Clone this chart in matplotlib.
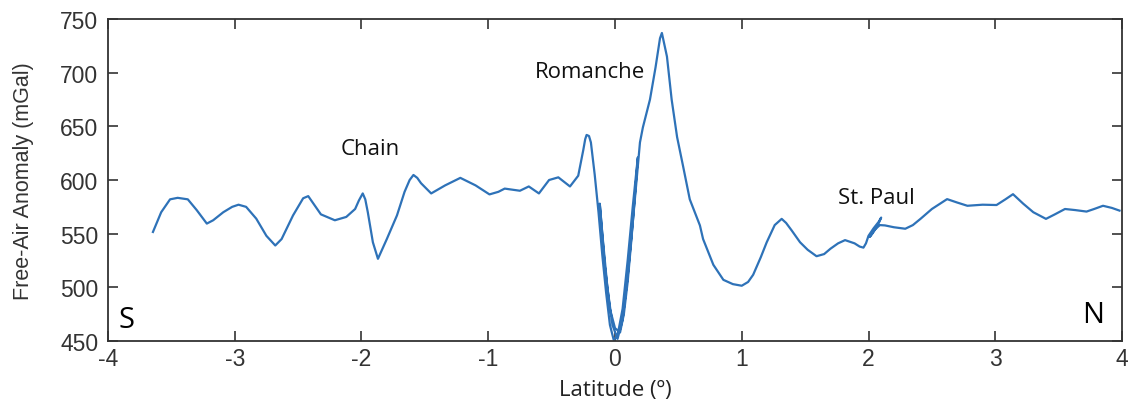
import numpy as np
import matplotlib
matplotlib.use("Agg")
import matplotlib.pyplot as plt

# ship track gravity profile across the equatorial fracture zones
lat = [-3.645, -3.58, -3.51, -3.45, -3.37, -3.30, -3.22, -3.17, -3.09, -3.02, -2.97,
       -2.91, -2.83, -2.75, -2.68, -2.63, -2.54, -2.46, -2.42, -2.37, -2.32,
       -2.21, -2.12, -2.05, -2.02, -1.99, -1.97, -1.95, -1.91, -1.87, -1.80, -1.72, -1.66,
       -1.62, -1.59, -1.56, -1.53, -1.45, -1.34, -1.22, -1.10, -0.99, -0.92, -0.87, -0.75,
       -0.68, -0.60, -0.52, -0.447, -0.355, -0.29, -0.25, -0.235, -0.224, -0.205, -0.19, -0.16,
       -0.13, -0.10, -0.07, -0.04, -0.01, 0.02, 0.06, 0.10, 0.14, 0.18,
       0.16, 0.13, 0.10, 0.07, 0.04, 0.0, -0.04, -0.08, -0.12, -0.10,
       -0.06, -0.02, 0.02, 0.06, 0.10, 0.14, 0.17, 0.197, 0.22, 0.276,
       0.32, 0.355, 0.37, 0.41, 0.447, 0.49, 0.537, 0.59, 0.67, 0.695, 0.776,
       0.855, 0.93, 1.0, 1.05, 1.09, 1.15, 1.197, 1.26, 1.315, 1.35,
       1.394, 1.46, 1.52, 1.59, 1.65, 1.70, 1.76, 1.815, 1.89, 1.93,
       1.96, 1.98, 2.0, 2.04, 2.08, 2.10, 2.07, 2.03, 2.01, 2.05,
       2.09, 2.13, 2.2, 2.29, 2.35, 2.41, 2.5, 2.62, 2.7, 2.78,
       2.9, 3.01, 3.08, 3.14, 3.22, 3.30, 3.40, 3.47, 3.55, 3.63,
       3.72, 3.78, 3.85, 3.92, 3.98]
faa = [551.6, 570, 582, 583.4, 582, 572, 559.4, 562.5, 570, 575, 577,
       575, 564, 548, 539, 545, 567, 583, 585, 576.5, 568,
       562.5, 565.6, 573, 581, 587.5, 582, 570, 542, 526.6, 545, 567, 589,
       600, 604.7, 602, 597, 587.5, 595, 602, 595, 586.6, 589, 592, 590,
       594, 587.5, 600, 602.5, 594, 604, 628, 638, 642, 641, 635, 605,
       570, 530, 495, 465, 451, 455, 480, 525, 575, 621,
       590, 545, 505, 475, 458, 462, 480, 520, 578, 550,
       500, 465, 452, 470, 510, 560, 600, 635, 649, 675,
       705, 732, 737, 715, 675, 640, 613, 582, 557.7, 545, 521,
       507, 503, 501.5, 505, 511.7, 528, 542, 558, 563.8, 560,
       553, 542, 535, 529, 531, 536, 541, 544, 541, 538,
       537, 541, 548, 555, 561, 565, 557, 550, 547, 554,
       558, 557.7, 556, 554.6, 558, 563.8, 573, 582.2, 579, 576,
       577, 576.7, 582, 586.8, 578, 570, 563.8, 568, 573, 572,
       570.6, 573, 576, 574, 571.5]

labels = ["Chain", "Romanche", "St. Paul"]
label_lat = [-1.93, -0.2, 2.06]
label_faa = [629, 701, 584]

fig = plt.figure(figsize=(11.28, 4.06), dpi=100)
ax = fig.add_axes([0.0957, 0.1576, 0.899, 0.7931])

ax.plot(lat, faa, color="#2e72b8", lw=1.6, solid_joinstyle="round")

ax.set_xlim(-4, 4)
ax.set_ylim(450, 750)
ax.set_xticks(np.arange(-4, 5, 1))
ax.set_yticks(np.arange(450, 751, 50))

tick_font = {"family": "Liberation Sans", "size": 16.5}
ax.set_xticklabels([str(v) for v in range(-4, 5)], fontdict=tick_font, color="#333333")
ax.set_yticklabels([str(v) for v in range(450, 751, 50)], fontdict=tick_font, color="#333333")
ax.tick_params(direction="in", length=7, width=1.2, color="#333333",
               top=True, right=True)
ax.tick_params(axis="x", pad=4)
ax.tick_params(axis="y", pad=7)
for s in ax.spines.values():
    s.set_color("#333333")
    s.set_linewidth(1.3)

ax.set_ylabel("Free-Air Anomaly (mGal)", family="Liberation Sans", fontsize=15.5,
              color="#333333", labelpad=19)
ax.set_xlabel("Latitude (º)", family="Open Sans", fontsize=16, color="#222222",
              labelpad=7)

for t, x, y in zip(labels, label_lat, label_faa):
    ax.text(x, y, t, family="Open Sans", fontsize=16, ha="center", va="center",
            color="#111111")

ax.text(-3.85, 470, "S", family="Open Sans", fontsize=21, ha="center", va="center")
ax.text(3.77, 475, "N", family="Open Sans", fontsize=21, ha="center", va="center")

fig.savefig("out.png", dpi=100)
